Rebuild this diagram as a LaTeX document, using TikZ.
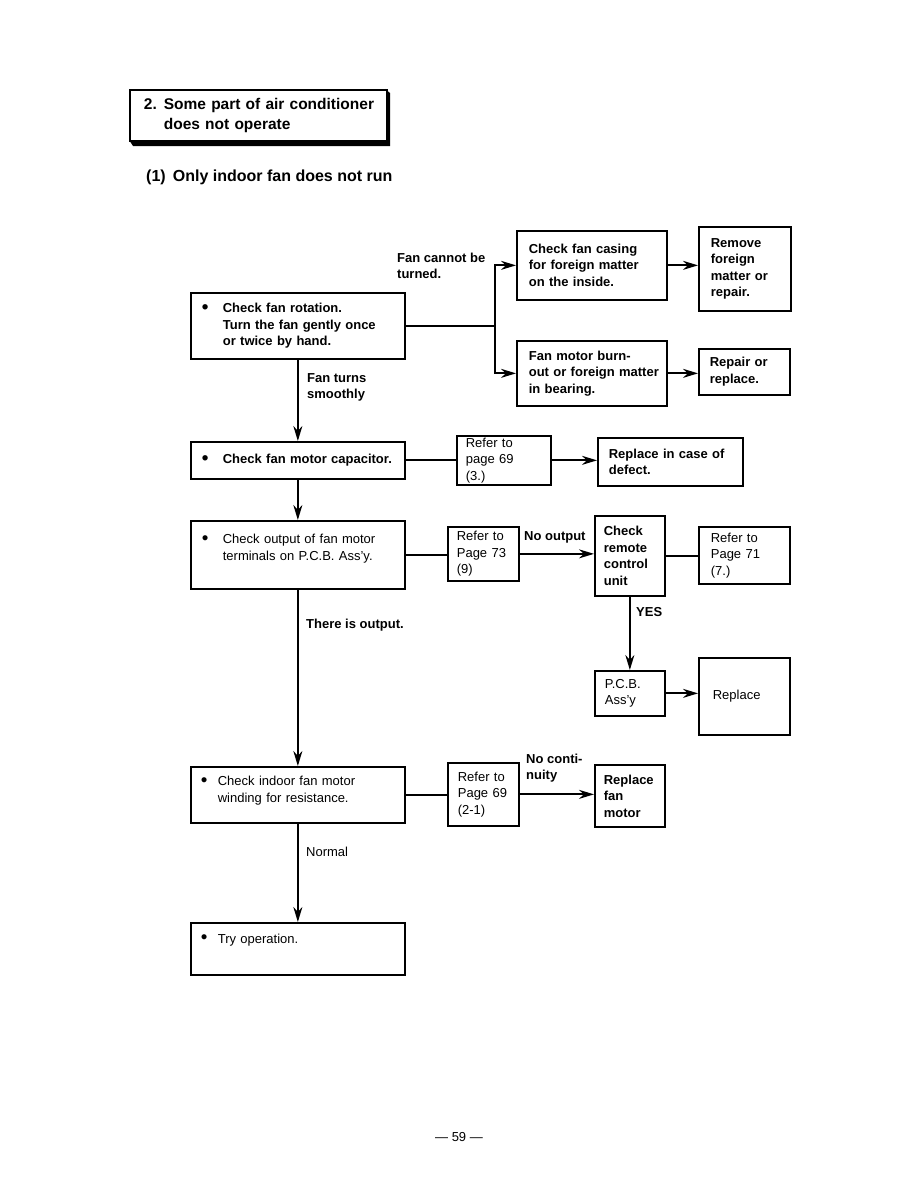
\documentclass[tikz,border=0pt]{standalone}
\usepackage{fontspec}
\setmainfont{Liberation Sans}
\usetikzlibrary{arrows.meta}
\newcommand{\fsn}{\fontsize{13}{16.5}\selectfont}
\newcommand{\fsb}{\fontsize{13}{16.5}\selectfont\bfseries}
\newcommand{\fsh}{\fontsize{15.5}{20}\selectfont\bfseries}
\newcommand{\fst}{\fontsize{16}{20}\selectfont\bfseries}
\newcommand{\bul}[1]{\makebox[#1][l]{\raisebox{-0.6pt}{\scalebox{1.45}{\textbullet}}}}
\begin{document}
\begin{tikzpicture}[x=1pt,y=-1pt,
  bx/.style={draw, line width=1.7pt, anchor=north west, align=left, inner ysep=0pt, font=\fsn},
  bxb/.style={bx, font=\fsb},
  conn/.style={line width=1.8pt},
  arr/.style={conn, -{Stealth[length=15pt,width=9pt]}},
  lbl/.style={anchor=west, inner sep=0pt, align=left, font=\fsb},
  lbln/.style={lbl, font=\fsn}
]
\useasboundingbox (0,0) rectangle (918,1188);

% header
\fill (385,89) -- (390,93) -- (390,146) -- (133,146) -- (129,140) -- (385,140) -- cycle;
\node[draw, line width=1.8pt, anchor=north west, align=left, font=\fsh, inner ysep=0pt,
      inner xsep=14pt, text width=229pt, minimum height=51pt, fill=white] (head) at (129,89)
  {\mbox{\makebox[20pt][l]{2.}Some part of air conditioner}\\\hspace*{20pt}does not operate};
\node[lbl, font=\fst] (sub) at (146,177) {(1)\, Only indoor fan does not run};

% boxes
\node[bxb, inner xsep=11pt, text width=192pt, minimum height=66pt] (A) at (190,292)
  {\bul{21pt}Check fan rotation.\\\hspace*{21pt}Turn the fan gently once\\\hspace*{21pt}or twice by hand.};
\node[bxb, inner xsep=12pt, text width=126pt, minimum height=69pt] (B) at (516,230)
  {Check fan casing\\for foreign matter\\on the inside.};
\node[bxb, inner xsep=12pt, text width=126pt, minimum height=65pt] (C) at (516,340)
  {Fan motor burn-\\\mbox{out or foreign matter}\\in bearing.};
\node[bxb, inner xsep=12pt, text width=68pt, minimum height=84pt] (D) at (698,226)
  {Remove\\foreign\\matter or\\repair.};
\node[bxb, inner xsep=11pt, text width=69pt, minimum height=46pt] (E) at (698,348)
  {Repair or\\replace.};
\node[bxb, inner xsep=11pt, text width=192pt, minimum height=37pt] (F) at (190,441)
  {\bul{21pt}Check fan motor capacitor.};
\node[bx, inner xsep=9pt, text width=76pt, minimum height=49pt] (G) at (456,435)
  {Refer to\\page 69\\(3.)};
\node[bxb, inner xsep=11pt, text width=123pt, minimum height=48pt] (H) at (597,437)
  {Replace in case of\\defect.};
\node[bx, inner xsep=11pt, text width=192pt, minimum height=68pt, text depth=32pt] (I) at (190,520)
  {\bul{21pt}Check output of fan motor\\\hspace*{21pt}terminals on P.C.B. Ass’y.};
\node[bx, inner xsep=9pt, text width=53pt, minimum height=54pt] (J) at (447,526)
  {Refer to\\Page 73\\(9)};
\node[bxb, inner xsep=9pt, text width=52pt, minimum height=80pt] (K) at (594,515)
  {Check\\remote\\control\\unit};
\node[bx, inner xsep=12pt, text width=67pt, minimum height=57pt] (L) at (698,526)
  {Refer to\\Page 71\\(7.)};
\node[bx, inner xsep=10pt, text width=50pt, minimum height=45pt] (M) at (594,670)
  {P.C.B.\\Ass’y};
\node[bx, inner xsep=14pt, text width=63pt, minimum height=77pt] (N) at (698,657)
  {Replace};
\node[bx, inner xsep=10pt, text width=194pt, minimum height=56pt, text depth=28pt] (O) at (190,766)
  {\bul{17pt}Check indoor fan motor\\\hspace*{17pt}winding for resistance.};
\node[bx, inner xsep=10pt, text width=51pt, minimum height=63pt] (P) at (447,762)
  {Refer to\\Page 69\\(2-1)};
\node[bxb, inner xsep=9pt, text width=52pt, minimum height=62pt] (Q) at (594,764)
  {Replace\\fan\\motor};
\node[bx, inner xsep=10pt, text width=194pt, minimum height=52pt, text depth=20.7pt] (R) at (190,922)
  {\bul{17pt}Try operation.};

% connectors
\path (A.east) ++(89,0) coordinate (jb);
\draw[conn] (A.east) -- (jb);
\draw[arr] (jb) |- (B.west);
\draw[arr] (jb) |- (C.west);
\draw[arr] (B.east) -- (B.east -| D.west);
\draw[arr] (C.east) -- (C.east -| E.west);
\draw[arr] (A.south) -- (F.north);
\draw[conn] (F.east) -- (F.east -| G.west);
\draw[arr] (G.east) -- (G.east -| H.west);
\draw[arr] (F.south) -- (I.north);
\draw[conn] (I.east) -- (I.east -| J.west);
\draw[arr] (J.east) -- (J.east -| K.west);
\draw[conn] (K.east) -- (K.east -| L.west);
\draw[arr] (K.south) -- (K.south |- M.north);
\draw[arr] (M.east) -- (M.east -| N.west);
\draw[arr] (I.south) -- (O.north);
\draw[conn] (O.east) -- (O.east -| P.west);
\draw[arr] (P.east) -- (P.east -| Q.west);
\draw[arr] (O.south) -- (R.north);

% labels
\node[lbl] (l1) at (397,266) {Fan cannot be\\turned.};
\node[lbl] (l2) at (307,387.5) {Fan turns\\smoothly};
\node[lbl] (l3) at (306,625) {There is output.};
\node[lbl] (l4) at (524,537) {No output};
\node[lbl] (l5) at (636,612) {YES};
\node[lbl] (l6) at (526,768) {No conti-\\nuity};
\node[lbln] (l7) at (306,852) {Normal};

\node[font=\fsn, inner sep=0pt] (pg) at (459,1137) {— 59 —};
\end{tikzpicture}
\end{document}
